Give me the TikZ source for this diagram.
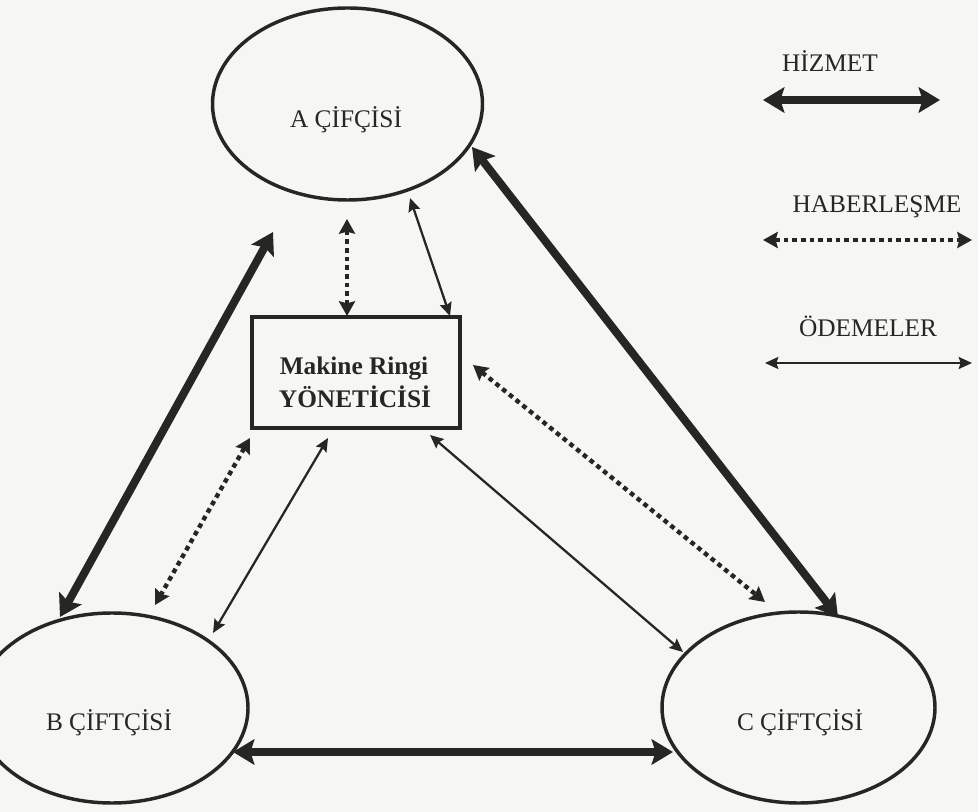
\documentclass[tikz,border=0pt]{standalone}
\usepackage{fontspec}
\setmainfont{Liberation Serif}
\usetikzlibrary{arrows.meta,shapes.geometric}
\definecolor{ink}{HTML}{262624}
\definecolor{paper}{HTML}{F6F6F4}
\begin{document}
\begin{tikzpicture}[x=0.75pt,y=-0.75pt,
  farm/.style={draw=ink, line width=2.6pt, ellipse, inner sep=0pt},
  mgr/.style={draw=ink, line width=3pt, rectangle, inner sep=0pt, minimum width=156pt, minimum height=83pt},
  lbl/.style={text=ink, font=\fontsize{19}{23}\selectfont, anchor=base, inner sep=0pt},
  blbl/.style={text=ink, font=\fontsize{19}{23}\selectfont\bfseries, anchor=base, inner sep=0pt},
  hizmet/.style={draw=ink, line width=6pt, {Stealth[length=16pt,width=19pt,inset=3pt]}-{Stealth[length=16pt,width=19pt,inset=3pt]}},
  haber/.style={draw=ink, line width=3.3pt, dash pattern=on 3.5pt off 3pt, {Stealth[length=11pt,width=12pt,inset=1.5pt]}-{Stealth[length=11pt,width=12pt,inset=1.5pt]}},
  odeme/.style={draw=ink, line width=1.7pt, {Stealth[length=10pt,width=9pt,inset=1.5pt]}-{Stealth[length=10pt,width=9pt,inset=1.5pt]}}
]
\useasboundingbox (0,0) rectangle (978,812);
\fill[paper] (0,0) rectangle (978,812);

% nodes
\node[farm, minimum width=202.5pt, minimum height=144pt] (a) at (347.5,104) {};
\node[farm, minimum width=204pt, minimum height=142.5pt] (b) at (112,708) {};
\node[farm, minimum width=204.75pt, minimum height=143.25pt] (c) at (798.5,707.5) {};
\node[mgr] (m) at (356,372.5) {};

\node[lbl] (at) at (346,128) {A ÇİFÇİSİ};
\node[lbl] (bt) at (109,730) {B ÇİFTÇİSİ};
\node[lbl] (ct) at (800,730) {C ÇİFTÇİSİ};
\node[blbl] (mt1) at (354,375) {Makine Ringi};
\node[blbl] (mt2) at (355,408) {YÖNETİCİSİ};

% connector end points
\coordinate (ab1) at (273,232);
\coordinate (ab2) at (60,617);
\coordinate (ac1) at (472,147);
\coordinate (ac2) at (838,617);
\coordinate (bc1) at (233,752);
\coordinate (bc2) at (673,752);
\coordinate (am1) at (347,219);
\coordinate (am2) at (347,316);
\coordinate (am3) at (410,198);
\coordinate (am4) at (450,316);
\coordinate (mc1) at (473,365);
\coordinate (mc2) at (765,602);
\coordinate (mc3) at (430,435);
\coordinate (mc4) at (683,652);
\coordinate (mb1) at (250,438);
\coordinate (mb2) at (155,605);
\coordinate (mb3) at (328,438);
\coordinate (mb4) at (213,633);

% service
\draw[hizmet] (ab1) -- (ab2);
\draw[hizmet] (ac1) -- (ac2);
\draw[hizmet] (bc1) -- (bc2);
% communication
\draw[haber] (am1) -- (am2);
\draw[haber] (mc1) -- (mc2);
\draw[haber] (mb1) -- (mb2);
% payments
\draw[odeme] (am3) -- (am4);
\draw[odeme] (mc3) -- (mc4);
\draw[odeme] (mb3) -- (mb4);

% legend
\node[lbl] (l1) at (830,72) {HİZMET};
\node[lbl] (l2) at (877,213) {HABERLEŞME};
\node[lbl] (l3) at (868,337) {ÖDEMELER};
\coordinate (h1) at (763,100);
\coordinate (h2) at (940,100);
\coordinate (d1) at (763,240);
\coordinate (d2) at (972,240);
\coordinate (o1) at (765,363);
\coordinate (o2) at (972,363);
\draw[hizmet] (h1) -- (h2);
\draw[haber] (d1) -- (d2);
\draw[odeme] (o1) -- (o2);
\end{tikzpicture}
\end{document}
